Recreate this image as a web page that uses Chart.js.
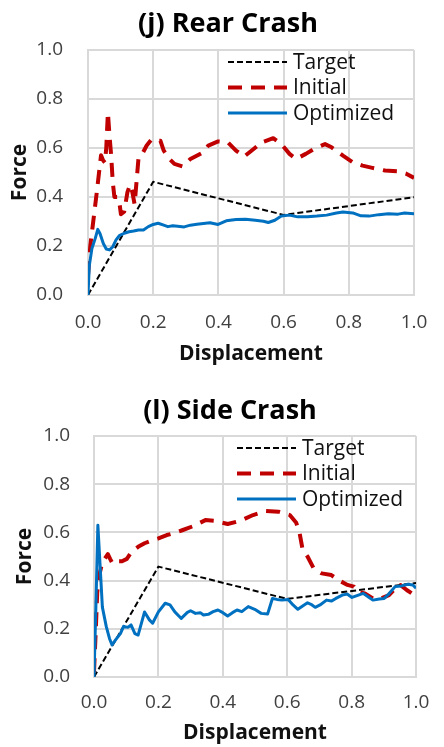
<!DOCTYPE html>
<html>
<head>
<meta charset="utf-8">
<script src="https://cdn.jsdelivr.net/npm/chart.js@4.4.1/dist/chart.umd.min.js"></script>
<style>
  html, body { margin: 0; padding: 0; background: #fff; }
  body { width: 444px; height: 747px; position: relative; overflow: hidden; }
  canvas { position: absolute; left: 0; }
  #chart-rear { top: 0; }
  #chart-side { top: 386px; }
</style>
</head>
<body>
<canvas id="chart-rear" width="444" height="380"></canvas>
<canvas id="chart-side" width="444" height="361"></canvas>
<script>
// series labels and panel titles
const seriesLabels = ["Target", "Initial", "Optimized"];
const panelTitles = ["(j) Rear Crash", "(l) Side Crash"];

// (j) rear crash, [displacement, force]
const rearTarget = [[0, 0], [0.2, 0.462], [0.6, 0.327], [1.0, 0.399]];
const rearInitial = [
    [0.0, 0.08], [0.007, 0.2], [0.017, 0.31], [0.027, 0.42], [0.033, 0.49], [0.04, 0.57],
    [0.046, 0.55], [0.052, 0.54], [0.056, 0.6], [0.061, 0.745], [0.066, 0.65], [0.071, 0.57],
    [0.076, 0.46], [0.081, 0.4], [0.09, 0.4], [0.096, 0.38], [0.101, 0.33], [0.111, 0.34],
    [0.121, 0.42], [0.129, 0.45], [0.136, 0.42], [0.143, 0.37], [0.15, 0.48], [0.155, 0.56],
    [0.168, 0.58], [0.18, 0.61], [0.195, 0.635], [0.21, 0.63], [0.222, 0.63], [0.232, 0.59],
    [0.25, 0.555], [0.265, 0.535], [0.29, 0.525], [0.314, 0.555], [0.35, 0.58], [0.369, 0.61],
    [0.399, 0.627], [0.429, 0.623], [0.454, 0.589], [0.479, 0.565], [0.508, 0.596], [0.533, 0.623],
    [0.568, 0.64], [0.593, 0.616], [0.618, 0.576], [0.638, 0.555], [0.668, 0.576], [0.693, 0.596],
    [0.727, 0.616], [0.747, 0.603], [0.782, 0.569], [0.812, 0.542], [0.842, 0.528], [0.872, 0.519],
    [0.911, 0.508], [0.951, 0.505], [0.976, 0.495], [1.0, 0.478]
];
const rearOptimized = [
    [0, 0], [0.004, 0.12], [0.012, 0.19], [0.022, 0.23], [0.03, 0.268], [0.037, 0.25],
    [0.047, 0.21], [0.056, 0.188], [0.066, 0.184], [0.076, 0.197], [0.086, 0.225], [0.096, 0.242],
    [0.111, 0.252], [0.126, 0.258], [0.14, 0.261], [0.155, 0.265], [0.17, 0.265], [0.185, 0.279],
    [0.2, 0.288], [0.215, 0.293], [0.23, 0.286], [0.245, 0.279], [0.26, 0.283], [0.275, 0.281],
    [0.295, 0.278], [0.314, 0.285], [0.334, 0.289], [0.354, 0.292], [0.374, 0.295], [0.399, 0.288],
    [0.424, 0.303], [0.454, 0.308], [0.483, 0.309], [0.513, 0.305], [0.538, 0.301], [0.553, 0.296],
    [0.573, 0.305], [0.593, 0.322], [0.618, 0.326], [0.643, 0.319], [0.673, 0.319], [0.702, 0.322],
    [0.732, 0.326], [0.762, 0.335], [0.782, 0.339], [0.812, 0.335], [0.837, 0.323], [0.862, 0.322],
    [0.892, 0.328], [0.921, 0.332], [0.951, 0.33], [0.971, 0.335], [1.0, 0.332]
];

// (l) side crash, [displacement, force]
const sideTarget = [[0, 0], [0.2, 0.458], [0.6, 0.324], [1.0, 0.39]];
const sideInitial = [
    [0, 0.02], [0.006, 0.21], [0.01, 0.35], [0.016, 0.42], [0.023, 0.46], [0.033, 0.49],
    [0.043, 0.51], [0.05, 0.49], [0.058, 0.47], [0.072, 0.48], [0.087, 0.48], [0.102, 0.49],
    [0.117, 0.52], [0.137, 0.54], [0.157, 0.555], [0.182, 0.568], [0.2, 0.575], [0.226, 0.589],
    [0.246, 0.596], [0.276, 0.61], [0.306, 0.625], [0.346, 0.651], [0.375, 0.648], [0.415, 0.635],
    [0.454, 0.648], [0.494, 0.672], [0.534, 0.689], [0.573, 0.686], [0.608, 0.672], [0.628, 0.64],
    [0.638, 0.6], [0.648, 0.527], [0.663, 0.5], [0.682, 0.451], [0.707, 0.43], [0.737, 0.423],
    [0.762, 0.4], [0.787, 0.382], [0.807, 0.375], [0.817, 0.354], [0.841, 0.347], [0.866, 0.326],
    [0.891, 0.326], [0.916, 0.34], [0.936, 0.368], [0.951, 0.382], [0.971, 0.361], [0.99, 0.344],
    [1.0, 0.336]
];
const sideOptimized = [
    [0, 0], [0.006, 0.3], [0.012, 0.63], [0.018, 0.485], [0.026, 0.29], [0.038, 0.21],
    [0.048, 0.16], [0.056, 0.133], [0.067, 0.154], [0.082, 0.18], [0.092, 0.21], [0.105, 0.206],
    [0.115, 0.216], [0.127, 0.18], [0.137, 0.174], [0.157, 0.27], [0.172, 0.237], [0.182, 0.223],
    [0.2, 0.27], [0.221, 0.306], [0.236, 0.299], [0.251, 0.27], [0.271, 0.243], [0.29, 0.268],
    [0.3, 0.275], [0.315, 0.264], [0.33, 0.267], [0.34, 0.257], [0.355, 0.26], [0.37, 0.271],
    [0.385, 0.278], [0.4, 0.267], [0.415, 0.253], [0.43, 0.267], [0.444, 0.278], [0.459, 0.271],
    [0.479, 0.292], [0.499, 0.281], [0.519, 0.264], [0.539, 0.261], [0.554, 0.326], [0.568, 0.322],
    [0.583, 0.319], [0.603, 0.322], [0.618, 0.299], [0.633, 0.281], [0.648, 0.295], [0.663, 0.308],
    [0.677, 0.299], [0.687, 0.289], [0.702, 0.299], [0.722, 0.319], [0.737, 0.315], [0.751, 0.326],
    [0.771, 0.34], [0.786, 0.344], [0.801, 0.33], [0.821, 0.34], [0.836, 0.347], [0.851, 0.333],
    [0.866, 0.319], [0.886, 0.324], [0.901, 0.326], [0.915, 0.344], [0.935, 0.375], [0.955, 0.378],
    [0.975, 0.385], [0.99, 0.382], [1.0, 0.368]
];

const FONT = "'Open Sans', 'DejaVu Sans', sans-serif";
const GRID = "#d9d9d9";
const TICK_COLOR = "#404040";

const toPoints = (pairs) => pairs.map(([x, y]) => ({ x: x, y: y }));

// title above the panel + legend inside the plot area
const panelDecor = {
    id: "panelDecor",
    afterDraw(chart, args, opts) {
        const { ctx, chartArea } = chart;
        ctx.save();
        ctx.font = "bold 27px " + FONT;
        ctx.fillStyle = "#000";
        ctx.textAlign = "center";
        ctx.textBaseline = "middle";
        ctx.fillText(opts.title, opts.titleX, opts.titleY);

        ctx.font = "21px " + FONT;
        ctx.textAlign = "left";
        chart.data.datasets.forEach((ds, i) => {
            const y = chartArea.top + opts.legendTop + i * opts.legendGap;
            const x0 = chartArea.left + opts.legendLeft;
            ctx.beginPath();
            ctx.setLineDash(ds.borderDash || []);
            ctx.lineWidth = ds.borderWidth;
            ctx.strokeStyle = ds.borderColor;
            ctx.moveTo(x0, y);
            ctx.lineTo(x0 + 59, y);
            ctx.stroke();
            ctx.setLineDash([]);
            ctx.fillStyle = "#111";
            ctx.fillText(ds.label, x0 + 65, y + 1);
        });
        ctx.restore();
    },
};

const makeChart = (id, panel) =>
    new Chart(document.getElementById(id), {
        type: "line",
        data: {
            datasets: [
                {
                    label: seriesLabels[0],
                    data: toPoints(panel.target),
                    borderColor: "#000000",
                    borderWidth: 2,
                    borderDash: [6, 3],
                    order: 2,
                },
                {
                    label: seriesLabels[1],
                    data: toPoints(panel.initial),
                    borderColor: "#C00000",
                    borderWidth: 4,
                    borderDash: [14, 9],
                    order: 1,
                },
                {
                    label: seriesLabels[2],
                    data: toPoints(panel.optimized),
                    borderColor: "#0070C0",
                    borderWidth: 3,
                    order: 0,
                },
            ],
        },
        options: {
            responsive: false,
            animation: false,
            devicePixelRatio: 1,
            layout: { padding: { top: 50, right: panel.padRight, left: 0, bottom: 0 } },
            elements: {
                point: { radius: 0 },
                line: { tension: 0, fill: false, borderJoinStyle: "round" },
            },
            plugins: {
                legend: { display: false },
                tooltip: { enabled: false },
                panelDecor: {
                    title: panel.title,
                    titleX: panel.titleX,
                    titleY: panel.titleY,
                    legendLeft: panel.legendLeft,
                    legendTop: 12,
                    legendGap: 25.5,
                },
            },
            scales: {
                x: {
                    type: "linear",
                    min: 0,
                    max: 1,
                    ticks: {
                        stepSize: 0.2,
                        callback: (v) => v.toFixed(1),
                        padding: panel.xTickPad,
                        color: TICK_COLOR,
                        font: { family: FONT, size: 19 },
                        maxRotation: 0,
                    },
                    grid: { color: GRID, lineWidth: 2, drawTicks: false },
                    border: { color: GRID, width: 2 },
                    title: {
                        display: true,
                        text: "Displacement",
                        color: "#111",
                        font: { family: FONT, size: 21, weight: "bold" },
                        padding: { top: 0, bottom: panel.xTitlePad },
                    },
                    afterFit: (s) => {
                        s.height = panel.xHeight;
                    },
                },
                y: {
                    type: "linear",
                    min: 0,
                    max: 1,
                    ticks: {
                        stepSize: 0.2,
                        callback: (v) => v.toFixed(1),
                        padding: panel.yTickPad,
                        color: TICK_COLOR,
                        font: { family: FONT, size: 19 },
                    },
                    grid: { color: GRID, lineWidth: 2, drawTicks: false },
                    border: { color: GRID, width: 2 },
                    title: {
                        display: true,
                        text: "Force",
                        color: "#111",
                        font: { family: FONT, size: 21, weight: "bold" },
                        padding: { top: panel.yTitlePad, bottom: 0 },
                    },
                    afterFit: (s) => {
                        s.width = panel.yWidth;
                    },
                },
            },
        },
        plugins: [panelDecor],
    });

window.rearChart = makeChart("chart-rear", {
    title: panelTitles[0],
    target: rearTarget,
    initial: rearInitial,
    optimized: rearOptimized,
    titleX: 228,
    titleY: 24,
    padRight: 21,
    yWidth: 88,
    xHeight: 85,
    xTickPad: 16.6,
    yTickPad: 25,
    xTitlePad: 13.4,
    yTitlePad: 7,
    legendLeft: 140,
});

window.sideChart = makeChart("chart-side", {
    title: panelTitles[1],
    target: sideTarget,
    initial: sideInitial,
    optimized: sideOptimized,
    titleX: 230,
    titleY: 25,
    padRight: 14,
    yWidth: 94,
    xHeight: 70,
    xTickPad: 14.6,
    yTickPad: 24,
    xTitlePad: 1.4,
    yTitlePad: 12.5,
    legendLeft: 143,
});
</script>
</body>
</html>
